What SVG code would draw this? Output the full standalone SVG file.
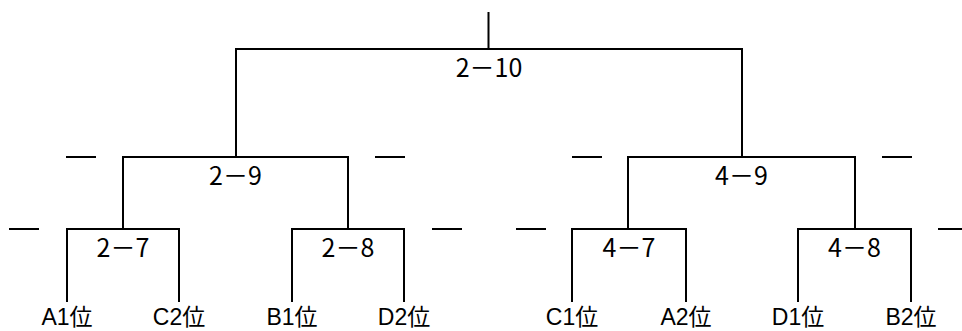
<svg xmlns="http://www.w3.org/2000/svg" width="962" height="331" viewBox="0 0 962 331">
<style>
.ln{stroke:#000;stroke-width:2;fill:none;stroke-linecap:butt}
.t{font-family:"Noto Sans CJK JP","Noto Sans CJK SC",sans-serif;font-size:25px;fill:#000;text-anchor:middle}
.b{font-family:"Liberation Sans","Noto Sans CJK JP",sans-serif;font-size:23px}
</style>
<rect width="962" height="331" fill="#fff"/>
<g id="connectors" class="ln">
<path d="M488.5,12V49M236,49H742M236,48V157M742,48V157"/>
<path d="M123,157H348M123,156V229M348,156V229M628,157H855M628,156V229M855,156V229"/>
<path d="M67,229H179M67,228V302M179,228V302M292,229H404M292,228V302M404,228V302"/>
<path d="M572,229H686M572,228V302M686,228V302M798,229H911M798,228V302M911,228V302"/>
<path d="M66,157H96M375,157H405M572,157H602M882,157H912"/>
<path d="M9,229H39M432,229H462M516,229H546M938,229H962"/>
</g>
<g id="m2-10"><text class="t" x="489" y="77">2－10</text></g>
<g id="m2-9"><text class="t" x="235.5" y="185">2－9</text></g>
<g id="m4-9"><text class="t" x="741.5" y="185">4－9</text></g>
<g id="m2-7"><text class="t" x="123" y="257">2－7</text></g>
<g id="m2-8"><text class="t" x="348" y="257">2－8</text></g>
<g id="m4-7"><text class="t" x="629" y="257">4－7</text></g>
<g id="m4-8"><text class="t" x="854.5" y="257">4－8</text></g>
<g id="a1"><text class="t b" x="67" y="325">A1位</text></g>
<g id="c2"><text class="t b" x="179" y="325">C2位</text></g>
<g id="b1"><text class="t b" x="292" y="325">B1位</text></g>
<g id="d2"><text class="t b" x="404" y="325">D2位</text></g>
<g id="c1"><text class="t b" x="572" y="325">C1位</text></g>
<g id="a2"><text class="t b" x="686" y="325">A2位</text></g>
<g id="d1"><text class="t b" x="798" y="325">D1位</text></g>
<g id="b2"><text class="t b" x="911" y="325">B2位</text></g>
</svg>
